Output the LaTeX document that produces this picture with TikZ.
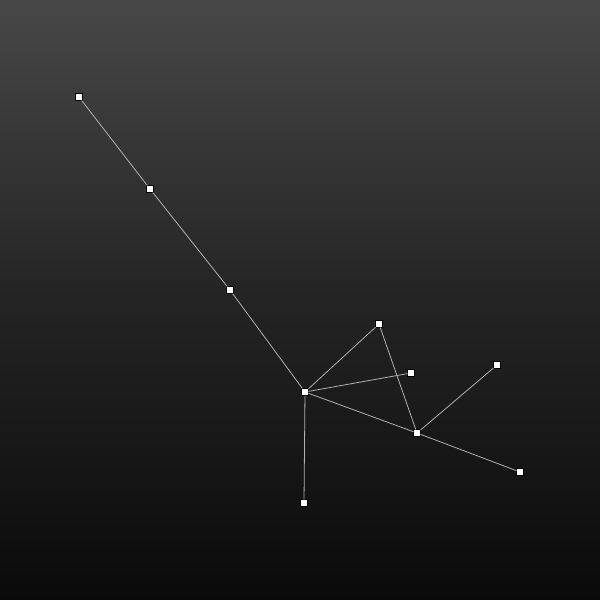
\documentclass[tikz,border=0pt]{standalone}
\usetikzlibrary{positioning}

\begin{document}
\begin{tikzpicture}[
    x=0.02cm, y=-0.02cm,
    vertex/.style={draw=black, fill=white, line width=0.3pt, rectangle, minimum size=0.13cm, inner sep=0pt},
    edge/.style={draw=black!30, line width=0.45pt}
]

% ====================
%     Background
% ====================
\shade[top color=black!72, bottom color=black!96, middle color=black!86] (0,0) rectangle (600,600);
\useasboundingbox (0,0) rectangle (600,600);

% ====================
%       Graph
% ====================

% Nodes
\node[vertex] (tail1) at (79,97) {};
\node[vertex] (tail2) at (150,189) {};
\node[vertex] (tail3) at (230,290) {};
\node[vertex] (hub) at (305,392) {};
\node[vertex] (top) at (379,324) {};
\node[vertex] (mid) at (411,373) {};
\node[vertex] (far) at (497,365) {};
\node[vertex] (knee) at (417,433) {};
\node[vertex] (tip) at (520,472) {};
\node[vertex] (foot) at (304,503) {};

% Connections
\draw[edge] (tail1) -- (tail2);
\draw[edge] (tail2) -- (tail3);
\draw[edge] (tail3) -- (hub);
\draw[edge] (hub) -- (top);
\draw[edge] (hub) -- (mid);
\draw[edge] (hub) -- (knee);
\draw[edge] (hub) -- (foot);
\draw[edge] (top) -- (knee);
\draw[edge] (knee) -- (far);
\draw[edge] (knee) -- (tip);

\end{tikzpicture}
\end{document}
